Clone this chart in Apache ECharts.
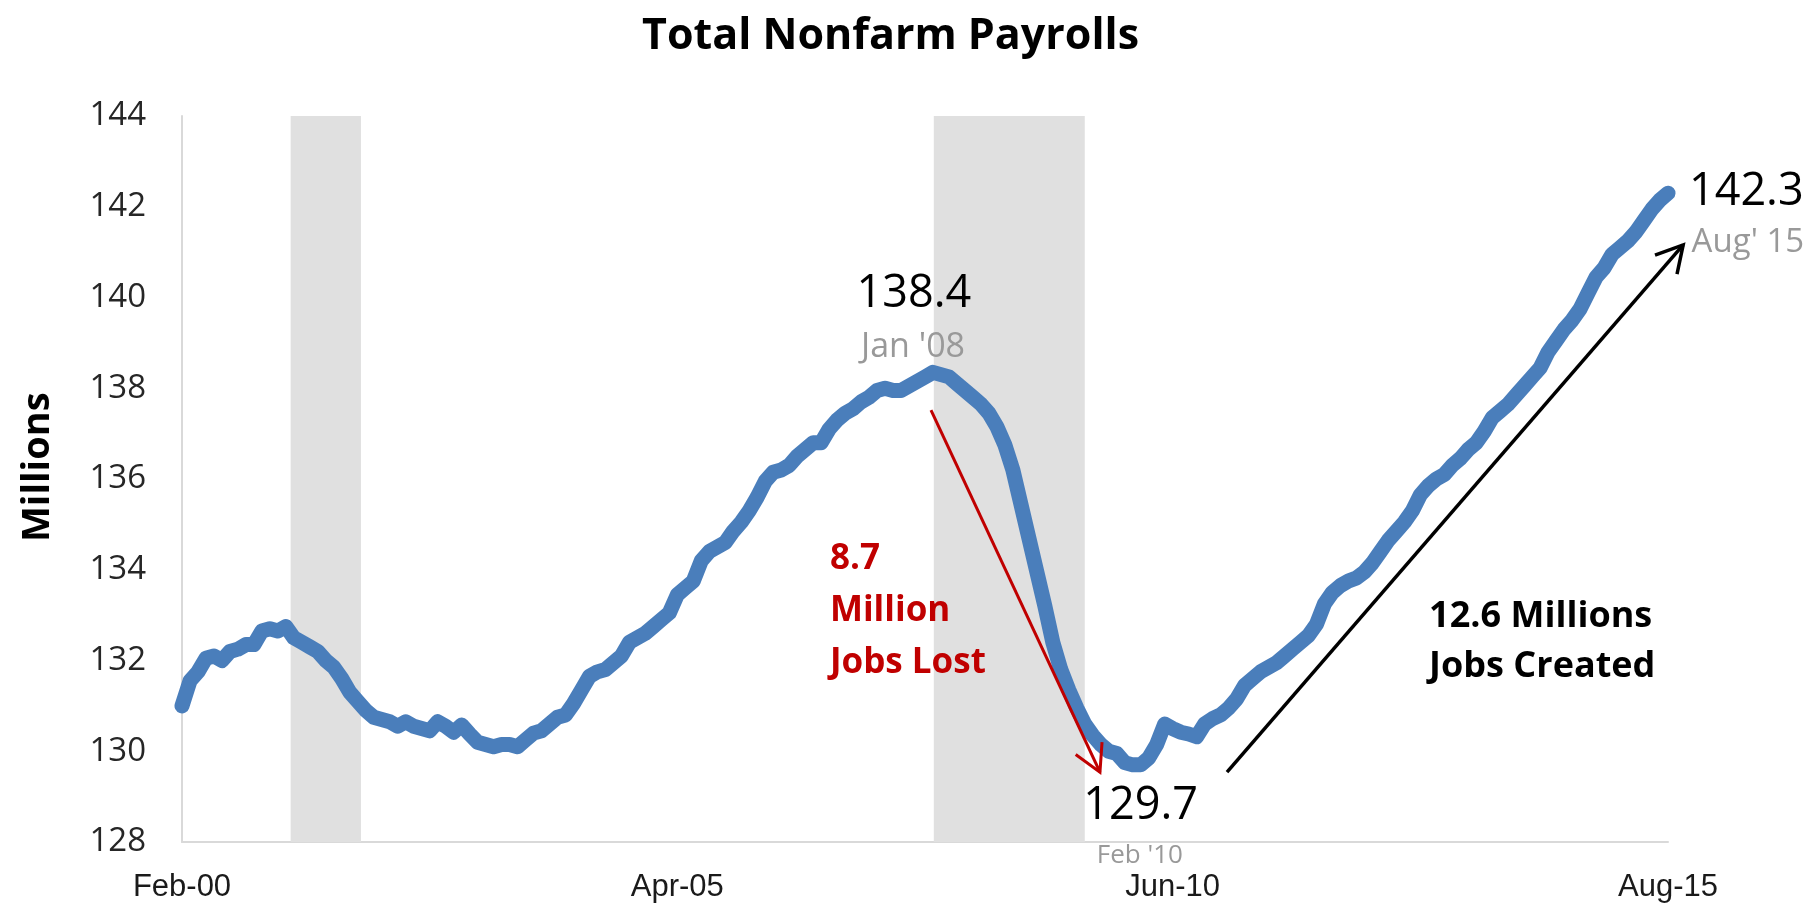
<!DOCTYPE html>
<html>
<head>
<meta charset="utf-8">
<title>Total Nonfarm Payrolls</title>
<script src="https://cdn.jsdelivr.net/npm/echarts@6/dist/echarts.min.js"></script>
<style>
  html, body { margin: 0; padding: 0; background: #fff; }
  #main { width: 1819px; height: 909px; }
</style>
</head>
<body>
<div id="main"></div>
<script>
// axis labels, one every 62 months (Feb-00 .. Aug-15)
var tickLabels = ['Feb-00', 'Apr-05', 'Jun-10', 'Aug-15'];
var tickStep = 62;

// total nonfarm payrolls, millions, monthly from Feb 2000 to Aug 2015
var payrolls = [
  131.0, 131.55, 131.75, 132.05, 132.1, 132.0, 132.2, 132.25, 132.35, 132.35, 132.65,
  132.7, 132.65, 132.75, 132.5, 132.4, 132.3, 132.2, 132.0, 131.85, 131.6, 131.3, 131.1,
  130.9, 130.75, 130.7, 130.65, 130.55, 130.65, 130.55, 130.5, 130.45, 130.65, 130.55, 130.42,
  130.58, 130.38, 130.2, 130.15, 130.1, 130.15, 130.15, 130.1, 130.25, 130.4, 130.45, 130.6,
  130.75, 130.8, 131.05, 131.35, 131.65, 131.75, 131.8, 131.95, 132.1, 132.4, 132.5, 132.6,
  132.75, 132.9, 133.05, 133.45, 133.6, 133.75, 134.2, 134.4, 134.5, 134.6, 134.85, 135.05,
  135.3, 135.6, 135.95, 136.15, 136.2, 136.3, 136.5, 136.65, 136.8, 136.8, 137.1, 137.3,
  137.45, 137.55, 137.7, 137.8, 137.95, 138.0, 137.95, 137.95, 138.05, 138.15, 138.25, 138.35,
  138.3, 138.25, 138.1, 137.95, 137.8, 137.65, 137.45, 137.15, 136.75, 136.2, 135.45, 134.7,
  133.95, 133.2, 132.4, 131.8, 131.35, 130.95, 130.6, 130.35, 130.15, 130.0, 129.95, 129.75,
  129.7, 129.7, 129.85, 130.15, 130.6, 130.5, 130.42, 130.38, 130.32, 130.6, 130.72, 130.8,
  130.95, 131.15, 131.45, 131.6, 131.75, 131.85, 131.95, 132.1, 132.25, 132.4, 132.55, 132.8,
  133.25, 133.5, 133.65, 133.75, 133.82, 133.95, 134.15, 134.4, 134.65, 134.85, 135.05, 135.3,
  135.65, 135.85, 136.0, 136.1, 136.3, 136.45, 136.65, 136.8, 137.05, 137.35, 137.5, 137.65,
  137.85, 138.05, 138.25, 138.45, 138.8, 139.05, 139.3, 139.5, 139.75, 140.1, 140.45, 140.65,
  140.95, 141.1, 141.25, 141.45, 141.7, 141.95, 142.15, 142.3
];

// recessions, in months after Feb-00
var recessionFrom = [13.6, 94.1];
var recessionTo = [22.4, 113.0];

var chart = echarts.init(document.getElementById('main'));

var points = payrolls.map(function (v, i) { return [i, v]; });
var shaded = recessionFrom.map(function (s, k) {
  return [{ xAxis: s }, { xAxis: recessionTo[k] }];
});

var option = {
  animation: false,
  backgroundColor: '#fff',
  title: {
    text: 'Total Nonfarm Payrolls',
    left: 637,
    top: 10,
    textStyle: { fontFamily: 'Open Sans', fontWeight: 'bold', fontSize: 43, color: '#000' }
  },
  grid: { left: 182, right: 151, top: 116, bottom: 67 },
  xAxis: {
    type: 'value',
    min: 0,
    max: payrolls.length - 1,
    interval: tickStep,
    axisLine: { lineStyle: { color: '#d9d9d9', width: 2 } },
    axisTick: { show: false },
    splitLine: { show: false },
    axisLabel: {
      margin: 30,
      fontFamily: 'Liberation Sans',
      fontSize: 31,
      color: '#1a1a1a',
      formatter: function (v) { return tickLabels[v / tickStep] || ''; }
    }
  },
  yAxis: {
    type: 'value',
    min: 128,
    max: 144,
    interval: 2,
    axisLine: { show: true, lineStyle: { color: '#d9d9d9', width: 2 } },
    axisTick: { show: false },
    splitLine: { show: false },
    axisLabel: { margin: 36, fontFamily: 'Open Sans', fontSize: 33, color: '#262626' }
  },
  series: [{
    type: 'line',
    data: points,
    showSymbol: false,
    z: 3,
    lineStyle: { color: '#4a7ebb', width: 15, join: 'round', cap: 'round' },
    markArea: {
      silent: true,
      itemStyle: { color: '#e0e0e0' },
      data: shaded
    }
  }]
};
chart.setOption(option);

// annotations, placed in data space
function at(m, v) { return chart.convertToPixel({ gridIndex: 0 }, [m, v]); }

function label(m, v, text, size, color, weight, align, lh, rot) {
  var p = at(m, v);
  return {
    type: 'text', x: p[0], y: p[1], z: 10, rotation: rot || 0,
    style: {
      text: text, fill: color,
      fontFamily: 'Open Sans', fontSize: size, fontWeight: weight || 'normal',
      align: align || 'center', verticalAlign: 'middle',
      textAlign: align || 'center', textVerticalAlign: 'middle',
      lineHeight: lh || size * 1.2
    }
  };
}

function arrow(m1, v1, m2, v2, color, width) {
  var a = at(m1, v1), b = at(m2, v2);
  var ang = Math.atan2(a[1] - b[1], a[0] - b[0]);
  var len = 30, spread = 29 * Math.PI / 180;
  var w1 = [b[0] + len * Math.cos(ang + spread), b[1] + len * Math.sin(ang + spread)];
  var w2 = [b[0] + len * Math.cos(ang - spread), b[1] + len * Math.sin(ang - spread)];
  return [
    { type: 'line', z: 10, shape: { x1: a[0], y1: a[1], x2: b[0], y2: b[1] },
      style: { stroke: color, lineWidth: width } },
    { type: 'polyline', z: 10, shape: { points: [w1, b, w2] },
      style: { stroke: color, lineWidth: width, fill: null, lineJoin: 'miter' } }
  ];
}

var notes = [
  label(-18.0, 136.26, 'Millions', 38, '#000', 'bold', 'center', 44, Math.PI / 2),
  label(91.6, 140.08, '138.4', 45, '#000'),
  label(91.5, 138.9, "Jan '08", 34, '#999'),
  label(120.0, 128.8, '129.7', 45, '#000'),
  label(119.9, 127.69, "Feb '10", 26, '#999'),
  label(195.8, 142.33, '142.3', 45, '#000'),
  label(196.0, 141.22, "Aug' 15", 33, '#999'),
  label(81.1, 133.09, '8.7\nMillion\nJobs Lost', 35, '#c00000', 'bold', 'left', 52),
  label(156.1, 132.41, '12.6 Millions\nJobs Created', 36, '#000', 'bold', 'left', 50)
]
  .concat(arrow(93.75, 137.52, 114.9, 129.54, '#c00000', 3))
  .concat(arrow(130.8, 129.54, 187.9, 141.16, '#000', 3.5));

chart.setOption({ graphic: notes });
</script>
</body>
</html>
